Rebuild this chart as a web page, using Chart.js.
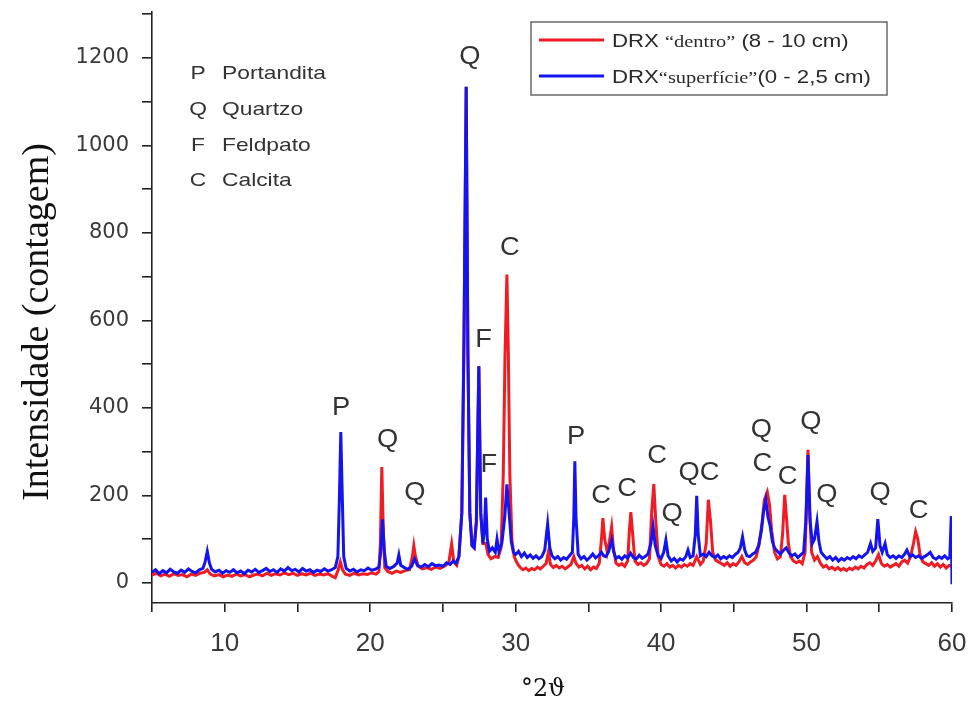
<!DOCTYPE html>
<html lang="pt">
<head>
<meta charset="utf-8">
<title>DRX</title>
<script src="https://cdn.jsdelivr.net/npm/chart.js@4.4.1/dist/chart.umd.min.js"></script>
<style>
  html, body { margin: 0; padding: 0; background: #fff; }
  #wrap { width: 972px; height: 715px; }
</style>
</head>
<body>
<div id="wrap"><canvas id="drx" width="972" height="715"></canvas></div>
<script>
// Difratograma: amostra "superfície" (0 - 2,5 cm)
const thetaSuperficie = [
  5.0, 5.25, 5.5, 5.75, 6.0, 6.25, 6.5, 6.75, 7.0, 7.25, 7.5, 7.75, 8.0, 8.25, 8.5, 8.65, 8.8, 8.95, 9.1, 9.35,
  9.6, 9.85, 10.1, 10.35, 10.6, 10.85, 11.1, 11.35, 11.6, 11.85, 12.1, 12.35, 12.6, 12.85, 13.1, 13.35, 13.6, 13.85, 14.1, 14.35,
  14.6, 14.85, 15.1, 15.35, 15.6, 15.85, 16.1, 16.35, 16.6, 16.85, 17.1, 17.35, 17.6, 17.78, 17.88, 17.98, 18.08, 18.18, 18.35, 18.6,
  18.85, 19.1, 19.35, 19.6, 19.85, 20.1, 20.35, 20.6, 20.72, 20.85, 20.98, 21.1, 21.35, 21.6, 21.85, 21.97, 22.1, 22.35, 22.6, 22.85,
  23.05, 23.25, 23.5, 23.75, 24.0, 24.25, 24.5, 24.75, 25.0, 25.25, 25.5, 25.7, 25.9, 26.1, 26.3, 26.45, 26.6, 26.72, 26.85, 27.0,
  27.15, 27.3, 27.47, 27.6, 27.75, 27.85, 27.94, 28.05, 28.2, 28.4, 28.6, 28.72, 28.85, 29.05, 29.25, 29.4, 29.55, 29.7, 29.85, 30.0,
  30.2, 30.4, 30.6, 30.8, 31.0, 31.2, 31.4, 31.6, 31.8, 32.0, 32.2, 32.35, 32.5, 32.7, 32.9, 33.1, 33.3, 33.5, 33.7, 33.9,
  34.0, 34.07, 34.15, 34.3, 34.5, 34.7, 34.9, 35.1, 35.3, 35.5, 35.7, 35.9, 36.05, 36.2, 36.4, 36.6, 36.75, 36.9, 37.1, 37.3,
  37.5, 37.7, 37.9, 38.1, 38.3, 38.5, 38.7, 38.9, 39.1, 39.3, 39.45, 39.6, 39.8, 40.0, 40.18, 40.33, 40.48, 40.7, 40.9, 41.1,
  41.3, 41.5, 41.7, 41.85, 42.0, 42.2, 42.35, 42.45, 42.55, 42.7, 42.9, 43.1, 43.3, 43.5, 43.7, 43.9, 44.1, 44.3, 44.5, 44.7,
  44.9, 45.1, 45.3, 45.45, 45.6, 45.75, 45.9, 46.1, 46.3, 46.5, 46.7, 46.9, 47.05, 47.2, 47.35, 47.5, 47.65, 47.8, 48.0, 48.2,
  48.4, 48.6, 48.8, 49.0, 49.2, 49.4, 49.6, 49.8, 49.95, 50.1, 50.25, 50.4, 50.55, 50.72, 50.85, 51.0, 51.2, 51.4, 51.6, 51.8,
  52.0, 52.2, 52.4, 52.6, 52.8, 53.0, 53.2, 53.4, 53.6, 53.8, 54.0, 54.2, 54.4, 54.55, 54.75, 54.9, 55.05, 55.2, 55.4, 55.55,
  55.75, 55.95, 56.15, 56.35, 56.55, 56.75, 56.9, 57.1, 57.3, 57.5, 57.7, 57.9, 58.1, 58.3, 58.5, 58.7, 58.9, 59.1, 59.3, 59.5,
  59.7, 59.85, 59.95, 60.0
];
const contagemSuperficie = [
  24, 30, 21, 28, 23, 31, 25, 22, 29, 24, 32, 26, 23, 30, 33, 48, 72, 45, 31, 25,
  29, 22, 28, 24, 30, 23, 27, 21, 29, 25, 31, 24, 28, 33, 26, 30, 24, 32, 27, 35,
  28, 31, 25, 33, 27, 30, 24, 29, 26, 32, 27, 30, 35, 60, 190, 345, 200, 60, 33, 27,
  31, 25, 30, 28, 34, 29, 31, 36, 70, 145, 70, 38, 33, 37, 45, 64, 40, 35, 31, 38,
  55, 40, 36, 42, 37, 44, 39, 41, 38, 46, 42, 50, 45, 60, 160, 560, 1134, 520, 160, 85,
  80, 140, 495, 160, 90, 120, 195, 100, 72, 80, 70, 100, 72, 90, 150, 225, 160, 95, 70, 65,
  72, 60, 68, 58, 64, 56, 62, 55, 60, 75, 135, 80, 62, 55, 60, 52, 58, 54, 62, 70,
  150, 278, 150, 65, 55, 60, 52, 58, 66, 57, 62, 70, 62, 60, 72, 98, 70, 56, 60, 54,
  62, 57, 68, 58, 55, 63, 56, 60, 66, 90, 128, 85, 62, 56, 70, 98, 62, 50, 56, 48,
  55, 52, 60, 75, 58, 62, 110, 199, 110, 62, 66, 60, 70, 62, 58, 64, 55, 60, 56, 62,
  58, 65, 70, 80, 105, 75, 62, 60, 66, 70, 85, 120, 165, 190, 150, 130, 95, 80, 72, 66,
  74, 80, 68, 62, 66, 58, 64, 70, 140, 292, 140, 90, 100, 140, 95, 70, 62, 55, 60, 52,
  58, 50, 56, 52, 58, 54, 60, 55, 62, 58, 64, 70, 90, 72, 80, 146, 85, 70, 90, 65,
  58, 62, 56, 62, 58, 66, 75, 60, 64, 58, 62, 56, 60, 64, 70, 58, 54, 60, 56, 62,
  55, 58, 153, -3
];

// Difratograma: amostra "dentro" (8 - 10 cm)
const thetaDentro = [
  5.0, 5.3, 5.6, 5.9, 6.2, 6.5, 6.8, 7.1, 7.4, 7.7, 8.0, 8.3, 8.6, 8.8, 9.0, 9.3, 9.6, 9.9, 10.2, 10.5,
  10.8, 11.1, 11.4, 11.7, 12.0, 12.3, 12.6, 12.9, 13.2, 13.5, 13.8, 14.1, 14.4, 14.7, 15.0, 15.3, 15.6, 15.9, 16.2, 16.5,
  16.8, 17.1, 17.4, 17.6, 17.8, 17.95, 18.1, 18.3, 18.6, 18.9, 19.2, 19.5, 19.8, 20.1, 20.4, 20.6, 20.7, 20.8, 20.9, 21.0,
  21.2, 21.5, 21.8, 22.1, 22.4, 22.7, 22.9, 23.0, 23.1, 23.3, 23.6, 23.9, 24.2, 24.5, 24.8, 25.1, 25.4, 25.6, 25.75, 25.95,
  26.1, 26.3, 26.45, 26.6, 26.72, 26.85, 27.0, 27.15, 27.3, 27.47, 27.6, 27.75, 27.95, 28.1, 28.3, 28.55, 28.8, 29.0, 29.15, 29.27,
  29.4, 29.5, 29.6, 29.75, 29.9, 30.1, 30.3, 30.5, 30.7, 30.9, 31.1, 31.3, 31.5, 31.7, 31.9, 32.1, 32.25, 32.4, 32.6, 32.8,
  33.0, 33.2, 33.4, 33.6, 33.8, 34.0, 34.15, 34.35, 34.55, 34.75, 34.95, 35.15, 35.35, 35.55, 35.75, 35.9, 36.0, 36.12, 36.3, 36.45,
  36.6, 36.72, 36.9, 37.1, 37.3, 37.5, 37.7, 37.82, 37.92, 38.05, 38.2, 38.4, 38.6, 38.8, 39.0, 39.2, 39.35, 39.5, 39.62, 39.8,
  40.0, 40.2, 40.4, 40.6, 40.8, 41.0, 41.2, 41.4, 41.6, 41.8, 42.0, 42.2, 42.45, 42.7, 42.9, 43.1, 43.25, 43.4, 43.55, 43.75,
  43.95, 44.15, 44.35, 44.55, 44.75, 44.95, 45.15, 45.35, 45.55, 45.75, 45.95, 46.15, 46.35, 46.55, 46.75, 46.95, 47.1, 47.3, 47.45, 47.6,
  47.8, 48.0, 48.2, 48.35, 48.5, 48.62, 48.75, 48.9, 49.1, 49.3, 49.5, 49.7, 49.9, 50.0, 50.1, 50.2, 50.35, 50.55, 50.75, 50.95,
  51.15, 51.35, 51.55, 51.75, 51.95, 52.15, 52.35, 52.55, 52.75, 52.95, 53.15, 53.35, 53.55, 53.75, 53.95, 54.15, 54.35, 54.55, 54.75, 54.95,
  55.15, 55.35, 55.55, 55.75, 55.95, 56.15, 56.35, 56.55, 56.75, 56.95, 57.15, 57.35, 57.5, 57.65, 57.8, 58.0, 58.2, 58.4, 58.6, 58.8,
  59.0, 59.2, 59.4, 59.6, 59.8, 60.0
];
const contagemDentro = [
  18, 22, 16, 20, 15, 21, 17, 19, 14, 20, 17, 22, 24, 30, 20, 16, 19, 14, 18, 15,
  20, 16, 19, 14, 18, 20, 16, 22, 17, 21, 18, 23, 19, 22, 17, 21, 18, 22, 17, 20,
  18, 21, 15, 12, 30, 48, 30, 20, 17, 22, 18, 21, 19, 23, 20, 26, 90, 265, 120, 35,
  26, 22, 27, 24, 28, 30, 60, 85, 62, 38, 32, 35, 31, 36, 33, 38, 45, 89, 48, 40,
  60, 160, 560, 1134, 520, 160, 85, 80, 140, 495, 160, 90, 90, 65, 55, 60, 58, 80, 250, 520,
  705, 520, 250, 95, 60, 45, 36, 30, 34, 28, 33, 30, 36, 32, 38, 45, 70, 42, 35, 40,
  34, 38, 32, 37, 42, 60, 45, 36, 40, 32, 38, 30, 36, 33, 45, 100, 148, 100, 70, 95,
  128, 80, 45, 40, 44, 38, 50, 120, 162, 110, 50, 42, 46, 40, 44, 55, 160, 226, 150, 60,
  42, 38, 44, 36, 40, 34, 40, 36, 42, 38, 44, 40, 60, 42, 50, 90, 190, 140, 70, 52,
  48, 44, 40, 46, 38, 44, 40, 48, 60, 46, 42, 48, 52, 60, 90, 140, 190, 208, 180, 120,
  70, 55, 60, 110, 201, 150, 90, 60, 50, 46, 50, 44, 70, 180, 304, 170, 70, 52, 60, 45,
  36, 40, 32, 36, 30, 35, 29, 33, 28, 34, 30, 36, 32, 38, 34, 42, 46, 40, 50, 65,
  44, 38, 42, 36, 40, 44, 38, 48, 52, 45, 60, 90, 117, 100, 65, 48, 44, 40, 46, 38,
  44, 36, 42, 34, 40, 38
];

// Rótulos das fases identificadas: letra, posição 2θ, altura do rótulo (contagem)
const faseLetra = ['P', 'Q', 'Q', 'Q', 'F', 'F', 'C', 'P', 'C', 'C', 'C', 'Q', 'QC', 'Q', 'C', 'C', 'Q', 'Q', 'Q', 'C'];
const faseTheta = [18.0, 21.2, 23.07, 26.85, 27.8, 28.15, 29.6, 34.15, 35.87, 37.66, 39.72, 40.75, 42.61, 46.9, 46.97, 48.7, 50.3, 51.4, 55.05, 57.7];
const faseAltura = [400, 327, 206, 1202, 555, 270, 766, 334, 199, 215, 290, 158, 251, 350, 272, 242, 368, 201, 206, 165];

// Legenda das fases
const chaveLetra = ['P', 'Q', 'F', 'C'];
const chaveNome = ['Portandita', 'Quartzo', 'Feldpato', 'Calcita'];

// Eixos
const eixoX = { min: 5, max: 60, passo: 5, rotulo: 10 };
const eixoY = { min: -46, max: 1305, passo: 100, rotulo: 200, topo: 1300 };

const toPoints = (xs, ys) => xs.map((x, i) => ({ x: x, y: ys[i] }));

const COR_DENTRO = '#f01c24';
const COR_SUPERFICIE = '#1414f0';
const COR_TEXTO = '#333333';
const SANS = '"Liberation Sans", Arial, sans-serif';
const SERIF = '"Liberation Serif", "Times New Roman", serif';
const ESTICA = 1.2; // largura dos textos desenhados à mão

function texto(ctx, s, x, y, esc) {
  ctx.save();
  ctx.translate(x, y);
  ctx.scale(esc, 1);
  ctx.fillText(s, 0, 0);
  ctx.restore();
}

const anotacoes = {
  id: 'anotacoes',
  afterDraw(chart) {
    const ctx = chart.ctx;
    const xs = chart.scales.x, ys = chart.scales.y;
    const area = chart.chartArea;
    ctx.save();

    // Letras das fases sobre os picos
    ctx.fillStyle = COR_TEXTO;
    ctx.font = '26px ' + SANS;
    ctx.textAlign = 'center';
    ctx.textBaseline = 'middle';
    faseLetra.forEach((l, i) => {
      texto(ctx, l, xs.getPixelForValue(faseTheta[i]), ys.getPixelForValue(faseAltura[i]), 1.05);
    });

    // Chave das fases (canto superior esquerdo)
    ctx.font = '19px ' + SANS;
    ctx.textBaseline = 'middle';
    chaveLetra.forEach((l, i) => {
      const y = area.top + 62 + i * 35.7;
      ctx.textAlign = 'center';
      texto(ctx, l, area.left + 46, y, ESTICA);
      ctx.textAlign = 'left';
      texto(ctx, chaveNome[i], area.left + 70, y, ESTICA);
    });

    // Legenda das séries
    const bx = 531, by = 22, bw = 356, bh = 73;
    ctx.fillStyle = '#fff';
    ctx.fillRect(bx, by, bw, bh);
    ctx.strokeStyle = '#6a6a6a';
    ctx.lineWidth = 1.5;
    ctx.strokeRect(bx, by, bw, bh);
    const linhas = [
      { cor: COR_DENTRO, y: 40, partes: [['DRX ', SANS, 18.5], ['\u201Cdentro\u201D', SERIF, 17], [' (8 - 10 cm)', SANS, 18.5]] },
      { cor: COR_SUPERFICIE, y: 76, partes: [['DRX', SANS, 18.5], ['\u201Csuperf\u00EDcie\u201D', SERIF, 17], ['(0 - 2,5 cm)', SANS, 18.5]] }
    ];
    linhas.forEach(li => {
      ctx.strokeStyle = li.cor;
      ctx.lineWidth = 3;
      ctx.beginPath();
      ctx.moveTo(539, li.y);
      ctx.lineTo(604, li.y);
      ctx.stroke();
      let x = 612;
      ctx.fillStyle = '#2a2a2a';
      ctx.textAlign = 'left';
      ctx.textBaseline = 'alphabetic';
      li.partes.forEach(p => {
        ctx.font = p[2] + 'px ' + p[1];
        texto(ctx, p[0], x, li.y + 7, ESTICA);
        x += ctx.measureText(p[0]).width * ESTICA;
      });
    });

    // Títulos dos eixos
    ctx.fillStyle = '#111';
    ctx.font = '38px ' + SERIF;
    ctx.textAlign = 'center';
    ctx.textBaseline = 'middle';
    ctx.save();
    ctx.translate(38, 322);
    ctx.rotate(-Math.PI / 2);
    ctx.fillText('Intensidade (contagem)', 0, 0);
    ctx.restore();
    ctx.font = '25px "DejaVu Serif", serif';
    texto(ctx, '\u00B02\u03D1', 543, 689, 0.95);

    ctx.restore();
  }
};

new Chart(document.getElementById('drx'), {
  type: 'line',
  data: {
    datasets: [
      {
        label: 'DRX "superfície" (0 - 2,5 cm)',
        data: toPoints(thetaSuperficie, contagemSuperficie),
        borderColor: COR_SUPERFICIE,
        borderWidth: 3,
        pointRadius: 0,
        tension: 0,
        fill: false,
        order: 0
      },
      {
        label: 'DRX "dentro" (8 - 10 cm)',
        data: toPoints(thetaDentro, contagemDentro),
        borderColor: COR_DENTRO,
        borderWidth: 3,
        pointRadius: 0,
        tension: 0,
        fill: false,
        order: 1
      }
    ]
  },
  options: {
    responsive: false,
    animation: false,
    events: [],
    layout: { padding: { top: 12, right: 20, left: 0, bottom: 0 } },
    plugins: { legend: { display: false }, tooltip: { enabled: false }, title: { display: false } },
    scales: {
      x: {
        type: 'linear',
        min: eixoX.min,
        max: eixoX.max,
        afterFit(s) { s.height = 112; s.paddingLeft = 0; s.paddingRight = 0; },
        border: { display: true, color: '#222', width: 1.6 },
        grid: { drawOnChartArea: false, drawTicks: true, tickLength: 9, color: '#222', lineWidth: 1.6 },
        ticks: {
          stepSize: eixoX.passo,
          autoSkip: false,
          maxRotation: 0,
          padding: 16,
          color: '#3a3a3a',
          font: { family: '"Liberation Sans Narrow", "Liberation Sans", sans-serif', size: 26 },
          callback: v => (v % eixoX.rotulo === 0 ? String(v) : '')
        }
      },
      y: {
        type: 'linear',
        min: eixoY.min,
        max: eixoY.max,
        afterFit(s) { s.width = 152; s.paddingTop = 0; s.paddingBottom = 0; },
        afterBuildTicks(s) {
          const t = [];
          for (let v = 0; v <= eixoY.topo; v += eixoY.passo) t.push({ value: v });
          s.ticks = t;
        },
        border: { display: true, color: '#222', width: 1.6 },
        grid: { drawOnChartArea: false, drawTicks: true, tickLength: 10, color: '#222', lineWidth: 1.6 },
        ticks: {
          autoSkip: false,
          padding: 13,
          color: '#3a3a3a',
          font: { family: '"DejaVu Sans", sans-serif', size: 21 },
          callback: v => (v % eixoY.rotulo === 0 ? String(v) : '')
        }
      }
    }
  },
  plugins: [anotacoes]
});
</script>
</body>
</html>
